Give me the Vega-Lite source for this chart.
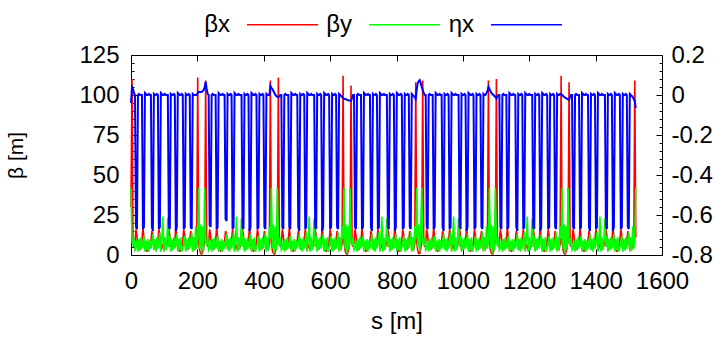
{
"$schema":"https://vega.github.io/schema/vega-lite/v6.json",
"width":531,"height":200,
"autosize":"none",
"padding":{"left":131,"top":55,"right":63,"bottom":82},
"background":"white",
"config":{
 "font":"Liberation Sans",
 "view":{"stroke":"black","strokeWidth":1},
 "axis":{"labelFont":"Liberation Sans","titleFont":"Liberation Sans","labelFontSize":24,"titleFontSize":24,"titleFontWeight":"normal","labelColor":"black","titleColor":"black","tickColor":"black","tickWidth":1,"domain":false,"grid":false,"labelFlush":false,"labelOverlap":false,"labelBound":false},
 "legend":{"labelColor":"black","labelFont":"Liberation Sans"}
},
"data":{"values":[
{"s":0,"bx":30,"by":42,"eta":-0.04},{"s":3,"bx":110,"by":8,"eta":0.04},{"s":6,"bx":10,"by":6,"eta":0.03},{"s":9,"bx":5,"by":11,"eta":0.01},
{"s":12,"bx":8,"by":3,"eta":0},{"s":15,"bx":16,"by":4,"eta":-0.66},{"s":18,"bx":12,"by":9,"eta":-0.67},{"s":21,"bx":4,"by":2,"eta":0},{"s":24,"bx":7,"by":10,"eta":0.005},{"s":27,"bx":3,"by":3,"eta":0},{"s":30,"bx":6,"by":11,"eta":0},{"s":33,"bx":9,"by":4,"eta":0},{"s":36,"bx":17,"by":6,"eta":-0.67},{"s":39,"bx":11,"by":12,"eta":-0.66},{"s":42,"bx":3,"by":2,"eta":0.01},{"s":45,"bx":6,"by":9,"eta":0.005},{"s":48,"bx":2,"by":3,"eta":0},{"s":51,"bx":7,"by":10,"eta":0},{"s":54,"bx":4,"by":2,"eta":0.005},{"s":57,"bx":8,"by":9,"eta":0},{"s":60,"bx":9,"by":4,"eta":0},{"s":63,"bx":15,"by":7,"eta":-0.66},{"s":66,"bx":12,"by":13,"eta":-0.68},{"s":69,"bx":4,"by":3,"eta":0.005},{"s":72,"bx":6,"by":10,"eta":0},{"s":75,"bx":3,"by":2,"eta":0},{"s":78,"bx":8,"by":11,"eta":0.005},{"s":81,"bx":9,"by":4,"eta":0},{"s":84,"bx":16,"by":8,"eta":-0.67},{"s":87,"bx":12,"by":14,"eta":-0.66},{"s":90,"bx":3,"by":2,"eta":0.01},{"s":93,"bx":7,"by":10,"eta":0.005},{"s":96,"bx":5,"by":24,"eta":0},{"s":99,"bx":3,"by":2,"eta":0},{"s":102,"bx":8,"by":11,"eta":0.005},{"s":105,"bx":4,"by":3,"eta":0},{"s":108,"bx":6,"by":9,"eta":0},{"s":111,"bx":9,"by":23,"eta":0},{"s":114,"bx":16,"by":5,"eta":-0.66},{"s":117,"bx":12,"by":12,"eta":-0.67},{"s":120,"bx":3,"by":2,"eta":0.005},{"s":123,"bx":7,"by":10,"eta":0},{"s":126,"bx":4,"by":3,"eta":0},{"s":129,"bx":8,"by":11,"eta":0.005},{"s":132,"bx":9,"by":4,"eta":0},{"s":135,"bx":17,"by":7,"eta":-0.68},{"s":138,"bx":11,"by":13,"eta":-0.66},{"s":141,"bx":3,"by":2,"eta":0.01},{"s":144,"bx":6,"by":10,"eta":0.005},{"s":147,"bx":2,"by":3,"eta":0},{"s":150,"bx":7,"by":11,"eta":0},{"s":153,"bx":4,"by":2,"eta":0.005},{"s":156,"bx":9,"by":5,"eta":0},{"s":159,"bx":16,"by":6,"eta":-0.67},{"s":162,"bx":12,"by":12,"eta":-0.66},{"s":165,"bx":4,"by":2,"eta":0.005},{"s":168,"bx":7,"by":10,"eta":0},{"s":171,"bx":3,"by":3,"eta":0},{"s":174,"bx":8,"by":11,"eta":0.005},{"s":177,"bx":9,"by":4,"eta":0},{"s":180,"bx":15,"by":8,"eta":-0.66},{"s":183,"bx":11,"by":14,"eta":-0.67},{"s":186,"bx":3,"by":2,"eta":0.005},{"s":189,"bx":6,"by":11,"eta":0},{"s":192,"bx":4,"by":3,"eta":0},{"s":195,"bx":7,"by":18,"eta":0},{"s":198,"bx":5,"by":4,"eta":0},
{"s":201,"bx":111,"by":10,"eta":0.01},{"s":204,"bx":8,"by":42,"eta":0.015},{"s":207,"bx":3,"by":4,"eta":0.015},{"s":210,"bx":1,"by":19,"eta":0.015},{"s":213,"bx":0.5,"by":1,"eta":0.015},{"s":216,"bx":2,"by":18,"eta":0.02},{"s":219,"bx":5,"by":3,"eta":0.025},{"s":222,"bx":9,"by":42,"eta":0.04},{"s":225,"bx":109,"by":8,"eta":0.065},
{"s":228,"bx":10,"by":6,"eta":0.03},{"s":231,"bx":5,"by":11,"eta":0.005},{"s":234,"bx":8,"by":3,"eta":0},{"s":237,"bx":16,"by":4,"eta":-0.65},{"s":240,"bx":12,"by":9,"eta":-0.66},{"s":243,"bx":4,"by":2,"eta":0},{"s":246,"bx":7,"by":10,"eta":0.005},{"s":249,"bx":3,"by":3,"eta":0},{"s":252,"bx":6,"by":11,"eta":0},{"s":255,"bx":9,"by":4,"eta":0},{"s":258,"bx":17,"by":6,"eta":-0.67},{"s":261,"bx":11,"by":12,"eta":-0.66},{"s":264,"bx":3,"by":2,"eta":0.01},{"s":267,"bx":6,"by":9,"eta":0.005},{"s":270,"bx":2,"by":3,"eta":0},{"s":273,"bx":7,"by":10,"eta":0},{"s":276,"bx":4,"by":2,"eta":0.005},{"s":279,"bx":8,"by":9,"eta":0},{"s":282,"bx":9,"by":4,"eta":0},{"s":285,"bx":15,"by":7,"eta":-0.62},{"s":288,"bx":12,"by":13,"eta":-0.63},{"s":291,"bx":4,"by":3,"eta":0.005},{"s":294,"bx":6,"by":10,"eta":0},{"s":297,"bx":3,"by":2,"eta":0},{"s":300,"bx":8,"by":11,"eta":0.005},{"s":303,"bx":9,"by":4,"eta":0},{"s":306,"bx":16,"by":8,"eta":-0.67},{"s":309,"bx":12,"by":14,"eta":-0.66},{"s":312,"bx":3,"by":2,"eta":0.01},{"s":315,"bx":7,"by":10,"eta":0.005},{"s":318,"bx":5,"by":24,"eta":0},{"s":321,"bx":3,"by":2,"eta":0},{"s":324,"bx":8,"by":11,"eta":0.005},{"s":327,"bx":4,"by":3,"eta":0},{"s":330,"bx":6,"by":9,"eta":0},{"s":333,"bx":9,"by":23,"eta":0},{"s":336,"bx":16,"by":5,"eta":-0.66},{"s":339,"bx":12,"by":12,"eta":-0.67},{"s":342,"bx":3,"by":2,"eta":0.005},{"s":345,"bx":7,"by":10,"eta":0},{"s":348,"bx":4,"by":3,"eta":0},{"s":351,"bx":8,"by":11,"eta":0.005},{"s":354,"bx":9,"by":4,"eta":0},{"s":357,"bx":17,"by":7,"eta":-0.68},{"s":360,"bx":11,"by":13,"eta":-0.66},{"s":363,"bx":3,"by":2,"eta":0.01},{"s":366,"bx":6,"by":10,"eta":0.005},{"s":369,"bx":2,"by":3,"eta":0},{"s":372,"bx":7,"by":11,"eta":0},{"s":375,"bx":4,"by":2,"eta":0.005},{"s":378,"bx":9,"by":5,"eta":0},{"s":381,"bx":16,"by":6,"eta":-0.67},{"s":384,"bx":12,"by":12,"eta":-0.66},{"s":387,"bx":4,"by":2,"eta":0.005},{"s":390,"bx":7,"by":10,"eta":0},{"s":393,"bx":3,"by":3,"eta":0},{"s":396,"bx":8,"by":11,"eta":0.005},{"s":399,"bx":9,"by":4,"eta":0},{"s":402,"bx":15,"by":8,"eta":-0.66},{"s":405,"bx":11,"by":14,"eta":-0.67},{"s":408,"bx":3,"by":2,"eta":0.005},{"s":411,"bx":6,"by":11,"eta":0},{"s":414,"bx":4,"by":3,"eta":0},{"s":417,"bx":7,"by":18,"eta":0},
{"s":420,"bx":109,"by":10,"eta":0.045},{"s":423,"bx":8,"by":42,"eta":0.035},{"s":426,"bx":3,"by":4,"eta":0.03},{"s":429,"bx":1,"by":19,"eta":0.02},{"s":432,"bx":0.5,"by":1,"eta":0.01},{"s":435,"bx":2,"by":18,"eta":0},{"s":438,"bx":5,"by":3,"eta":-0.005},{"s":441,"bx":9,"by":42,"eta":-0.01},{"s":444,"bx":111,"by":8,"eta":-0.012},
{"s":447,"bx":10,"by":6,"eta":-0.005},{"s":450,"bx":5,"by":11,"eta":0},{"s":453,"bx":8,"by":3,"eta":0},{"s":456,"bx":16,"by":4,"eta":-0.66},{"s":459,"bx":12,"by":9,"eta":-0.67},{"s":462,"bx":4,"by":2,"eta":0},{"s":465,"bx":7,"by":10,"eta":0.005},{"s":468,"bx":3,"by":3,"eta":0},{"s":471,"bx":6,"by":11,"eta":0},{"s":474,"bx":9,"by":4,"eta":0},{"s":477,"bx":17,"by":6,"eta":-0.66},{"s":480,"bx":11,"by":12,"eta":-0.67},{"s":483,"bx":3,"by":2,"eta":0.01},{"s":486,"bx":6,"by":9,"eta":0.005},{"s":489,"bx":2,"by":3,"eta":0},{"s":492,"bx":7,"by":10,"eta":0},{"s":495,"bx":4,"by":2,"eta":0.005},{"s":498,"bx":8,"by":9,"eta":0},{"s":501,"bx":9,"by":4,"eta":0},{"s":504,"bx":15,"by":7,"eta":-0.66},{"s":507,"bx":12,"by":13,"eta":-0.68},{"s":510,"bx":4,"by":3,"eta":0.005},{"s":513,"bx":6,"by":10,"eta":0},{"s":516,"bx":3,"by":2,"eta":0},{"s":519,"bx":8,"by":11,"eta":0.005},{"s":522,"bx":9,"by":4,"eta":0},{"s":525,"bx":16,"by":8,"eta":-0.67},{"s":528,"bx":12,"by":14,"eta":-0.66},{"s":531,"bx":3,"by":2,"eta":0.01},{"s":534,"bx":7,"by":10,"eta":0.005},{"s":537,"bx":5,"by":24,"eta":0},{"s":540,"bx":3,"by":2,"eta":0},{"s":543,"bx":8,"by":11,"eta":0.005},{"s":546,"bx":4,"by":3,"eta":0},{"s":549,"bx":6,"by":9,"eta":0},{"s":552,"bx":9,"by":23,"eta":0},{"s":555,"bx":16,"by":5,"eta":-0.66},{"s":558,"bx":12,"by":12,"eta":-0.67},{"s":561,"bx":3,"by":2,"eta":0.005},{"s":564,"bx":7,"by":10,"eta":0},{"s":567,"bx":4,"by":3,"eta":0},{"s":570,"bx":8,"by":11,"eta":0.005},{"s":573,"bx":9,"by":4,"eta":0},{"s":576,"bx":17,"by":7,"eta":-0.68},{"s":579,"bx":11,"by":13,"eta":-0.66},{"s":582,"bx":3,"by":2,"eta":0.01},{"s":585,"bx":6,"by":10,"eta":0.005},{"s":588,"bx":2,"by":3,"eta":0},{"s":591,"bx":7,"by":11,"eta":0},{"s":594,"bx":4,"by":2,"eta":0.005},{"s":597,"bx":9,"by":5,"eta":0},{"s":600,"bx":16,"by":6,"eta":-0.67},{"s":603,"bx":12,"by":12,"eta":-0.66},{"s":606,"bx":4,"by":2,"eta":0.005},{"s":609,"bx":7,"by":10,"eta":0},{"s":612,"bx":3,"by":3,"eta":0},{"s":615,"bx":8,"by":11,"eta":0.005},{"s":618,"bx":9,"by":4,"eta":0},{"s":621,"bx":15,"by":8,"eta":-0.66},{"s":624,"bx":11,"by":14,"eta":-0.67},{"s":627,"bx":3,"by":2,"eta":0.005},{"s":630,"bx":6,"by":11,"eta":0},{"s":633,"bx":4,"by":3,"eta":-0.005},{"s":636,"bx":7,"by":18,"eta":-0.01},
{"s":639,"bx":112,"by":10,"eta":-0.015},{"s":642,"bx":8,"by":42,"eta":-0.018},{"s":645,"bx":3,"by":4,"eta":-0.02},{"s":648,"bx":1,"by":19,"eta":-0.022},{"s":651,"bx":0.5,"by":1,"eta":-0.024},{"s":654,"bx":2,"by":18,"eta":-0.026},{"s":657,"bx":5,"by":3,"eta":-0.027},{"s":660,"bx":9,"by":42,"eta":-0.028},{"s":663,"bx":106,"by":8,"eta":-0.03},
{"s":666,"bx":10,"by":6,"eta":-0.015},{"s":669,"bx":5,"by":11,"eta":0},{"s":672,"bx":8,"by":3,"eta":0},{"s":675,"bx":16,"by":4,"eta":-0.66},{"s":678,"bx":12,"by":9,"eta":-0.67},{"s":681,"bx":4,"by":2,"eta":0},{"s":684,"bx":7,"by":10,"eta":0.005},{"s":687,"bx":3,"by":3,"eta":0},{"s":690,"bx":6,"by":11,"eta":0},{"s":693,"bx":9,"by":4,"eta":0},{"s":696,"bx":17,"by":6,"eta":-0.67},{"s":699,"bx":11,"by":12,"eta":-0.66},{"s":702,"bx":3,"by":2,"eta":0.01},{"s":705,"bx":6,"by":9,"eta":0.005},{"s":708,"bx":2,"by":3,"eta":0},{"s":711,"bx":7,"by":10,"eta":0},{"s":714,"bx":4,"by":2,"eta":0.005},{"s":717,"bx":8,"by":9,"eta":0},{"s":720,"bx":9,"by":4,"eta":0},{"s":723,"bx":15,"by":7,"eta":-0.66},{"s":726,"bx":12,"by":13,"eta":-0.68},{"s":729,"bx":4,"by":3,"eta":0.005},{"s":732,"bx":6,"by":10,"eta":0},{"s":735,"bx":3,"by":2,"eta":0},{"s":738,"bx":8,"by":11,"eta":0.005},{"s":741,"bx":9,"by":4,"eta":0},{"s":744,"bx":16,"by":8,"eta":-0.67},{"s":747,"bx":12,"by":14,"eta":-0.66},{"s":750,"bx":3,"by":2,"eta":0.01},{"s":753,"bx":7,"by":10,"eta":0.005},{"s":756,"bx":5,"by":24,"eta":0},{"s":759,"bx":3,"by":2,"eta":0},{"s":762,"bx":8,"by":11,"eta":0.005},{"s":765,"bx":4,"by":3,"eta":0},{"s":768,"bx":6,"by":9,"eta":0},{"s":771,"bx":9,"by":23,"eta":0},{"s":774,"bx":16,"by":5,"eta":-0.66},{"s":777,"bx":12,"by":12,"eta":-0.67},{"s":780,"bx":3,"by":2,"eta":0.005},{"s":783,"bx":7,"by":10,"eta":0},{"s":786,"bx":4,"by":3,"eta":0},{"s":789,"bx":8,"by":11,"eta":0.005},{"s":792,"bx":9,"by":4,"eta":0},{"s":795,"bx":17,"by":7,"eta":-0.68},{"s":798,"bx":11,"by":13,"eta":-0.66},{"s":801,"bx":3,"by":2,"eta":0.01},{"s":804,"bx":6,"by":10,"eta":0.005},{"s":807,"bx":2,"by":3,"eta":0},{"s":810,"bx":7,"by":11,"eta":0},{"s":813,"bx":4,"by":2,"eta":0.005},{"s":816,"bx":9,"by":5,"eta":0},{"s":819,"bx":16,"by":6,"eta":-0.67},{"s":822,"bx":12,"by":12,"eta":-0.66},{"s":825,"bx":4,"by":2,"eta":0.005},{"s":828,"bx":7,"by":10,"eta":0},{"s":831,"bx":3,"by":3,"eta":0},{"s":834,"bx":8,"by":11,"eta":0.005},{"s":837,"bx":9,"by":4,"eta":0},{"s":840,"bx":15,"by":8,"eta":-0.66},{"s":843,"bx":11,"by":14,"eta":-0.67},{"s":846,"bx":3,"by":2,"eta":0.005},{"s":849,"bx":6,"by":11,"eta":0},{"s":852,"bx":4,"by":3,"eta":-0.005},{"s":855,"bx":7,"by":18,"eta":-0.01},
{"s":858,"bx":108,"by":10,"eta":-0.02},{"s":861,"bx":8,"by":42,"eta":0.03},{"s":864,"bx":3,"by":5,"eta":0.06},{"s":867,"bx":1,"by":19,"eta":0.07},{"s":870,"bx":1,"by":2,"eta":0.075},{"s":873,"bx":4,"by":18,"eta":0.06},{"s":876,"bx":9,"by":42,"eta":0.04},{"s":879,"bx":109,"by":8,"eta":0.025},
{"s":882,"bx":10,"by":6,"eta":0.01},{"s":885,"bx":5,"by":11,"eta":0},{"s":888,"bx":8,"by":3,"eta":0},{"s":891,"bx":16,"by":4,"eta":-0.66},{"s":894,"bx":12,"by":9,"eta":-0.67},{"s":897,"bx":4,"by":2,"eta":0},{"s":900,"bx":7,"by":10,"eta":0.005},{"s":903,"bx":3,"by":3,"eta":0},{"s":906,"bx":6,"by":11,"eta":0},{"s":909,"bx":9,"by":4,"eta":0},{"s":912,"bx":17,"by":6,"eta":-0.67},{"s":915,"bx":11,"by":12,"eta":-0.66},{"s":918,"bx":3,"by":2,"eta":0.01},{"s":921,"bx":6,"by":9,"eta":0.005},{"s":924,"bx":2,"by":3,"eta":0},{"s":927,"bx":7,"by":10,"eta":0},{"s":930,"bx":4,"by":2,"eta":0.005},{"s":933,"bx":8,"by":9,"eta":0},{"s":936,"bx":9,"by":4,"eta":0},{"s":939,"bx":15,"by":7,"eta":-0.66},{"s":942,"bx":12,"by":13,"eta":-0.68},{"s":945,"bx":4,"by":3,"eta":0.005},{"s":948,"bx":6,"by":10,"eta":0},{"s":951,"bx":3,"by":2,"eta":0},{"s":954,"bx":8,"by":11,"eta":0.005},{"s":957,"bx":9,"by":4,"eta":0},{"s":960,"bx":16,"by":8,"eta":-0.67},{"s":963,"bx":12,"by":14,"eta":-0.66},{"s":966,"bx":3,"by":2,"eta":0.01},{"s":969,"bx":7,"by":10,"eta":0.005},{"s":972,"bx":5,"by":24,"eta":0},{"s":975,"bx":3,"by":2,"eta":0},{"s":978,"bx":8,"by":11,"eta":0.005},{"s":981,"bx":4,"by":3,"eta":0},{"s":984,"bx":6,"by":9,"eta":0},{"s":987,"bx":9,"by":23,"eta":0},{"s":990,"bx":16,"by":5,"eta":-0.66},{"s":993,"bx":12,"by":12,"eta":-0.67},{"s":996,"bx":3,"by":2,"eta":0.005},{"s":999,"bx":7,"by":10,"eta":0},{"s":1002,"bx":4,"by":3,"eta":0},{"s":1005,"bx":8,"by":11,"eta":0.005},{"s":1008,"bx":9,"by":4,"eta":0},{"s":1011,"bx":17,"by":7,"eta":-0.68},{"s":1014,"bx":11,"by":13,"eta":-0.66},{"s":1017,"bx":3,"by":2,"eta":0.01},{"s":1020,"bx":6,"by":10,"eta":0.005},{"s":1023,"bx":2,"by":3,"eta":0},{"s":1026,"bx":7,"by":11,"eta":0},{"s":1029,"bx":4,"by":2,"eta":0.005},{"s":1032,"bx":9,"by":5,"eta":0},{"s":1035,"bx":16,"by":6,"eta":-0.67},{"s":1038,"bx":12,"by":12,"eta":-0.66},{"s":1041,"bx":4,"by":2,"eta":0.005},{"s":1044,"bx":7,"by":10,"eta":0},{"s":1047,"bx":3,"by":3,"eta":0},{"s":1050,"bx":8,"by":11,"eta":0.005},{"s":1053,"bx":9,"by":4,"eta":0},{"s":1056,"bx":15,"by":8,"eta":-0.66},{"s":1059,"bx":11,"by":14,"eta":-0.67},{"s":1062,"bx":3,"by":2,"eta":0.005},{"s":1065,"bx":6,"by":11,"eta":0},{"s":1068,"bx":4,"by":3,"eta":0},{"s":1071,"bx":7,"by":18,"eta":0.01},{"s":1074,"bx":5,"by":4,"eta":0.02},
{"s":1077,"bx":109,"by":10,"eta":0.04},{"s":1080,"bx":8,"by":42,"eta":0.03},{"s":1083,"bx":3,"by":4,"eta":0.02},{"s":1086,"bx":1,"by":19,"eta":0.01},{"s":1089,"bx":0.5,"by":1,"eta":0.005},{"s":1092,"bx":2,"by":18,"eta":0},{"s":1095,"bx":5,"by":3,"eta":-0.005},{"s":1098,"bx":9,"by":42,"eta":-0.01},{"s":1101,"bx":110,"by":8,"eta":-0.017},
{"s":1104,"bx":10,"by":6,"eta":-0.005},{"s":1107,"bx":5,"by":11,"eta":0},{"s":1110,"bx":8,"by":3,"eta":0},{"s":1113,"bx":16,"by":4,"eta":-0.66},{"s":1116,"bx":12,"by":9,"eta":-0.67},{"s":1119,"bx":4,"by":2,"eta":0},{"s":1122,"bx":7,"by":10,"eta":0.005},{"s":1125,"bx":3,"by":3,"eta":0},{"s":1128,"bx":6,"by":11,"eta":0},{"s":1131,"bx":9,"by":4,"eta":0},{"s":1134,"bx":17,"by":6,"eta":-0.67},{"s":1137,"bx":11,"by":12,"eta":-0.66},{"s":1140,"bx":3,"by":2,"eta":0.01},{"s":1143,"bx":6,"by":9,"eta":0.005},{"s":1146,"bx":2,"by":3,"eta":0},{"s":1149,"bx":7,"by":10,"eta":0},{"s":1152,"bx":4,"by":2,"eta":0.005},{"s":1155,"bx":8,"by":9,"eta":0},{"s":1158,"bx":9,"by":4,"eta":0},{"s":1161,"bx":15,"by":7,"eta":-0.66},{"s":1164,"bx":12,"by":13,"eta":-0.68},{"s":1167,"bx":4,"by":3,"eta":0.005},{"s":1170,"bx":6,"by":10,"eta":0},{"s":1173,"bx":3,"by":2,"eta":0},{"s":1176,"bx":8,"by":11,"eta":0.005},{"s":1179,"bx":9,"by":4,"eta":0},{"s":1182,"bx":16,"by":8,"eta":-0.67},{"s":1185,"bx":12,"by":14,"eta":-0.66},{"s":1188,"bx":3,"by":2,"eta":0.01},{"s":1191,"bx":7,"by":10,"eta":0.005},{"s":1194,"bx":5,"by":24,"eta":0},{"s":1197,"bx":3,"by":2,"eta":0},{"s":1200,"bx":8,"by":11,"eta":0.005},{"s":1203,"bx":4,"by":3,"eta":0},{"s":1206,"bx":6,"by":9,"eta":0},{"s":1209,"bx":9,"by":23,"eta":0},{"s":1212,"bx":16,"by":5,"eta":-0.66},{"s":1215,"bx":12,"by":12,"eta":-0.67},{"s":1218,"bx":3,"by":2,"eta":0.005},{"s":1221,"bx":7,"by":10,"eta":0},{"s":1224,"bx":4,"by":3,"eta":0},{"s":1227,"bx":8,"by":11,"eta":0.005},{"s":1230,"bx":9,"by":4,"eta":0},{"s":1233,"bx":17,"by":7,"eta":-0.68},{"s":1236,"bx":11,"by":13,"eta":-0.66},{"s":1239,"bx":3,"by":2,"eta":0.01},{"s":1242,"bx":6,"by":10,"eta":0.005},{"s":1245,"bx":2,"by":3,"eta":0},{"s":1248,"bx":7,"by":11,"eta":0},{"s":1251,"bx":4,"by":2,"eta":0.005},{"s":1254,"bx":9,"by":5,"eta":0},{"s":1257,"bx":16,"by":6,"eta":-0.67},{"s":1260,"bx":12,"by":12,"eta":-0.66},{"s":1263,"bx":4,"by":2,"eta":0.005},{"s":1266,"bx":7,"by":10,"eta":0},{"s":1269,"bx":3,"by":3,"eta":0},{"s":1272,"bx":8,"by":11,"eta":0.005},{"s":1275,"bx":9,"by":4,"eta":0},{"s":1278,"bx":15,"by":8,"eta":-0.66},{"s":1281,"bx":11,"by":14,"eta":-0.67},{"s":1284,"bx":3,"by":2,"eta":0.005},{"s":1287,"bx":6,"by":11,"eta":0},{"s":1290,"bx":4,"by":3,"eta":0},{"s":1293,"bx":7,"by":18,"eta":0.005},
{"s":1296,"bx":112,"by":10,"eta":0.005},{"s":1299,"bx":8,"by":42,"eta":0},{"s":1302,"bx":3,"by":4,"eta":-0.005},{"s":1305,"bx":1,"by":19,"eta":-0.01},{"s":1308,"bx":0.5,"by":1,"eta":-0.013},{"s":1311,"bx":2,"by":18,"eta":-0.016},{"s":1314,"bx":5,"by":3,"eta":-0.019},{"s":1317,"bx":9,"by":42,"eta":-0.022},{"s":1320,"bx":108,"by":8,"eta":-0.025},
{"s":1323,"bx":10,"by":6,"eta":-0.01},{"s":1326,"bx":5,"by":11,"eta":0},{"s":1329,"bx":8,"by":3,"eta":0},{"s":1332,"bx":16,"by":4,"eta":-0.66},{"s":1335,"bx":12,"by":9,"eta":-0.67},{"s":1338,"bx":4,"by":2,"eta":0},{"s":1341,"bx":7,"by":10,"eta":0.005},{"s":1344,"bx":3,"by":3,"eta":0},{"s":1347,"bx":6,"by":11,"eta":0},{"s":1350,"bx":9,"by":4,"eta":0},{"s":1353,"bx":17,"by":6,"eta":-0.67},{"s":1356,"bx":11,"by":12,"eta":-0.66},{"s":1359,"bx":3,"by":2,"eta":0.01},{"s":1362,"bx":6,"by":9,"eta":0.005},{"s":1365,"bx":2,"by":3,"eta":0},{"s":1368,"bx":7,"by":10,"eta":0},{"s":1371,"bx":4,"by":2,"eta":0.005},{"s":1374,"bx":8,"by":9,"eta":0},{"s":1377,"bx":9,"by":4,"eta":0},{"s":1380,"bx":15,"by":7,"eta":-0.66},{"s":1383,"bx":12,"by":13,"eta":-0.68},{"s":1386,"bx":4,"by":3,"eta":0.005},{"s":1389,"bx":6,"by":10,"eta":0},{"s":1392,"bx":3,"by":2,"eta":0},{"s":1395,"bx":8,"by":11,"eta":0.005},{"s":1398,"bx":9,"by":4,"eta":0},{"s":1401,"bx":16,"by":8,"eta":-0.67},{"s":1404,"bx":12,"by":14,"eta":-0.66},{"s":1407,"bx":3,"by":2,"eta":0.01},{"s":1410,"bx":7,"by":10,"eta":0.005},{"s":1413,"bx":5,"by":24,"eta":0},{"s":1416,"bx":3,"by":2,"eta":0},{"s":1419,"bx":8,"by":11,"eta":0.005},{"s":1422,"bx":4,"by":3,"eta":0},{"s":1425,"bx":6,"by":9,"eta":0},{"s":1428,"bx":9,"by":23,"eta":0},{"s":1431,"bx":16,"by":5,"eta":-0.66},{"s":1434,"bx":12,"by":12,"eta":-0.67},{"s":1437,"bx":3,"by":2,"eta":0.005},{"s":1440,"bx":7,"by":10,"eta":0},{"s":1443,"bx":4,"by":3,"eta":0},{"s":1446,"bx":8,"by":11,"eta":0.005},{"s":1449,"bx":9,"by":4,"eta":0},{"s":1452,"bx":17,"by":7,"eta":-0.68},{"s":1455,"bx":11,"by":13,"eta":-0.66},{"s":1458,"bx":3,"by":2,"eta":0.01},{"s":1461,"bx":6,"by":10,"eta":0.005},{"s":1464,"bx":2,"by":3,"eta":0},{"s":1467,"bx":7,"by":11,"eta":0},{"s":1470,"bx":4,"by":2,"eta":0.005},{"s":1473,"bx":9,"by":5,"eta":0},{"s":1476,"bx":16,"by":6,"eta":-0.67},{"s":1479,"bx":12,"by":12,"eta":-0.66},{"s":1482,"bx":4,"by":2,"eta":0.005},{"s":1485,"bx":7,"by":10,"eta":0},{"s":1488,"bx":3,"by":3,"eta":0},{"s":1491,"bx":8,"by":11,"eta":0.005},{"s":1494,"bx":9,"by":4,"eta":0},{"s":1497,"bx":15,"by":8,"eta":-0.66},{"s":1500,"bx":11,"by":14,"eta":-0.67},{"s":1503,"bx":3,"by":2,"eta":0.005},{"s":1506,"bx":6,"by":11,"eta":0},{"s":1509,"bx":4,"by":3,"eta":-0.005},{"s":1512,"bx":7,"by":18,"eta":-0.01},{"s":1515,"bx":5,"by":4,"eta":-0.02},{"s":1518,"bx":109,"by":9,"eta":-0.03},{"s":1521,"bx":11,"by":42,"eta":-0.065}
]},
"layer":[
 {"mark":{"type":"line","strokeWidth":1.6},
  "encoding":{
   "x":{"field":"s","type":"quantitative","scale":{"domain":[0,1600],"nice":false,"zero":false},
        "axis":{"orient":"bottom","values":[0,200,400,600,800,1000,1200,1400,1600],"format":"d","tickSize":-6,"labelPadding":20,"title":"s [m]","titlePadding":16}},
   "y":{"field":"bx","type":"quantitative","scale":{"domain":[0,125],"nice":false},
        "axis":{"orient":"left","values":[0,25,50,75,100,125],"tickSize":-6,"labelPadding":18,"title":"β [m]","titleFontSize":21,"titlePadding":52}},
   "color":{"datum":"βx","type":"nominal","scale":{"domain":["βx","βy","ηx"],"range":["#ff0000","#00ff00","#0000ff"]},
        "legend":{"orient":"none","legendX":115,"legendY":-67,"direction":"horizontal","title":null,"symbolType":"stroke","symbolSize":5041,"symbolStrokeWidth":1.6,"labelFontSize":24,"labelAlign":"right","labelOffset":-89,"columnPadding":4,"labelLimit":0}}
  }},
 {"mark":{"type":"line","strokeWidth":1.6},
  "encoding":{
   "x":{"field":"s","type":"quantitative","scale":{"domain":[0,1600],"nice":false,"zero":false},
        "axis":{"orient":"top","values":[0,200,400,600,800,1000,1200,1400,1600],"tickSize":-6,"labels":false,"title":null}},
   "y":{"field":"by","type":"quantitative","scale":{"domain":[0,125],"nice":false},
        "axis":{"orient":"left","values":[5,10,15,20,30,35,40,45,55,60,65,70,80,85,90,95,105,110,115,120],"tickSize":-3,"labels":false,"title":null}},
   "color":{"datum":"βy","type":"nominal"}
  }},
 {"mark":{"type":"line","strokeWidth":2},
  "encoding":{
   "x":{"field":"s","type":"quantitative","scale":{"domain":[0,1600],"nice":false,"zero":false},"axis":null},
   "y":{"field":"eta","type":"quantitative","scale":{"domain":[-0.8,0.2],"nice":false,"zero":false},
        "axis":{"orient":"right","values":[-0.8,-0.6,-0.4,-0.2,0,0.2],"tickSize":-6,"labelPadding":15,"labelAlign":"left","title":null,
                "labelExpr":"(datum.value < -0.000001 ? '-' : '\u00a0') + format(abs(datum.value), '.1~f')"}},
   "color":{"datum":"ηx","type":"nominal"}
  }},
 {"mark":{"type":"line","opacity":0},
  "encoding":{
   "x":{"field":"s","type":"quantitative","scale":{"domain":[0,1600],"nice":false,"zero":false},"axis":null},
   "y":{"field":"eta","type":"quantitative","scale":{"domain":[-0.8,0.2],"nice":false,"zero":false},
        "axis":{"orient":"right","values":[-0.76,-0.72,-0.68,-0.64,-0.56,-0.52,-0.48,-0.44,-0.36,-0.32,-0.28,-0.24,-0.16,-0.12,-0.08,-0.04,0.04,0.08,0.12,0.16],"tickSize":-3,"labels":false,"title":null}}
  }}
],
"resolve":{"scale":{"y":"independent"},"axis":{"x":"independent"}}
}
